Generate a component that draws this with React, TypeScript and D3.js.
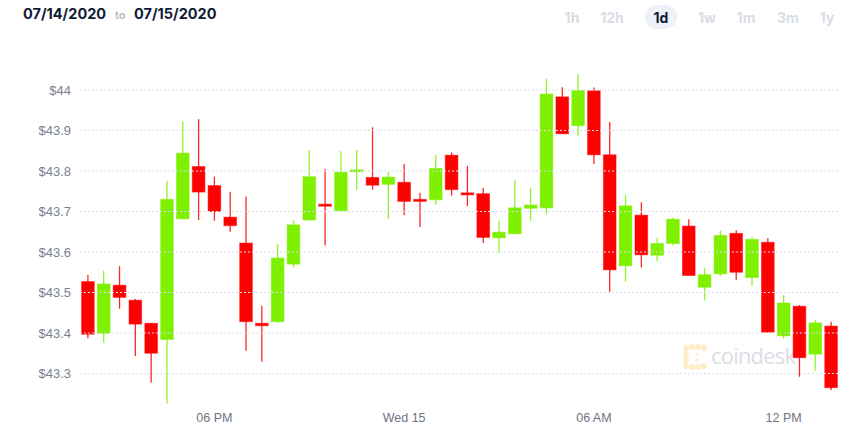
import * as d3 from "d3";

const WIDTH = 864;
const HEIGHT = 432;
const MARGIN = { top: 90, right: 25, bottom: 58.5, left: 80 };

// half-hour candles, 07/14/2020 14:00 -> 07/15/2020 13:30
const START = new Date(2020, 6, 14, 14, 0);
const opens = [
  43.527, 43.399, 43.518, 43.481, 43.424, 43.384, 43.682, 43.811, 43.764, 43.686,
  43.622, 43.424, 43.428, 43.57, 43.679, 43.718, 43.702, 43.8, 43.784, 43.767,
  43.772, 43.73, 43.729, 43.839, 43.746, 43.744, 43.635, 43.645, 43.708, 43.709,
  43.983, 43.912, 43.998, 43.84, 43.566, 43.691, 43.592, 43.621, 43.664, 43.513,
  43.546, 43.646, 43.537, 43.624, 43.393, 43.466, 43.348, 43.417,
];
const highs = [
  43.543, 43.554, 43.565, 43.484, 43.425, 43.776, 43.923, 43.928, 43.786, 43.749,
  43.737, 43.467, 43.62, 43.678, 43.852, 43.805, 43.849, 43.852, 43.908, 43.797,
  43.817, 43.746, 43.839, 43.846, 43.813, 43.758, 43.677, 43.778, 43.758, 44.027,
  44.007, 44.04, 44.006, 43.921, 43.74, 43.723, 43.635, 43.685, 43.681, 43.56,
  43.653, 43.654, 43.638, 43.634, 43.493, 43.469, 43.432, 43.428,
];
const lows = [
  43.387, 43.376, 43.46, 43.343, 43.278, 43.226, 43.681, 43.679, 43.677, 43.65,
  43.356, 43.329, 43.425, 43.562, 43.677, 43.616, 43.702, 43.753, 43.754, 43.681,
  43.691, 43.662, 43.717, 43.739, 43.713, 43.622, 43.599, 43.645, 43.677, 43.694,
  43.892, 43.887, 43.817, 43.502, 43.527, 43.562, 43.578, 43.616, 43.542, 43.48,
  43.541, 43.53, 43.517, 43.402, 43.386, 43.292, 43.307, 43.259,
];
const closes = [
  43.397, 43.521, 43.488, 43.422, 43.35, 43.73, 43.844, 43.748, 43.7, 43.665,
  43.428, 43.418, 43.585, 43.667, 43.786, 43.714, 43.797, 43.803, 43.765, 43.785,
  43.725, 43.726, 43.806, 43.754, 43.745, 43.636, 43.649, 43.709, 43.716, 43.99,
  43.892, 43.999, 43.84, 43.556, 43.714, 43.593, 43.621, 43.681, 43.542, 43.544,
  43.641, 43.55, 43.631, 43.402, 43.474, 43.339, 43.425, 43.265,
];

const xTickLabels = ["06 PM", "Wed 15", "06 AM", "12 PM"];
const ranges = ["1h", "12h", "1d", "1w", "1m", "3m", "1y"];
const rangeX = [572, 612, 661, 707, 746, 788, 827];
const activeRange = "1d";

const UP = "#7ff000";
const DOWN = "#ff0000";

const App = () => {
  const boundsWidth = WIDTH - MARGIN.left - MARGIN.right;

  const candles = opens.map((o, i) => ({
    t: d3.timeMinute.offset(START, i * 30),
    o,
    h: highs[i],
    l: lows[i],
    c: closes[i],
  }));

  const xScale = d3
    .scaleTime()
    .domain([d3.timeMinute.offset(START, -15), d3.timeMinute.offset(START, 24 * 60 - 15)])
    .range([MARGIN.left, MARGIN.left + boundsWidth]);

  const yScale = d3
    .scaleLinear()
    .domain([43.3, 44])
    .range([HEIGHT - MARGIN.bottom, MARGIN.top]);

  const step = xScale(d3.timeMinute.offset(START, 30)) - xScale(START);
  const bodyW = step * 0.8;

  const yTicks = yScale.ticks(7);
  const xTicks = d3.timeHour.every(6)!.range(xScale.domain()[0], xScale.domain()[1]);

  return (
    <div style={{ position: "absolute", left: 0, top: 0 }}>
      <svg width={WIDTH} height={HEIGHT} style={{ display: "block" }}>
        <rect width={WIDTH} height={HEIGHT} fill="#ffffff" />

        {/* header */}
        <g fontFamily="Inter, 'Open Sans', sans-serif" fontWeight={700}>
          <text x={23} y={19} fontSize={14.5} fill="#111a33">07/14/2020</text>
          <text x={115} y={19} fontSize={11} fill="#b3b7c4" fontWeight={600}>to</text>
          <text x={134} y={19} fontSize={14.5} fill="#111a33">07/15/2020</text>
          {ranges.map((r, i) => (
            <g key={r}>
              {r === activeRange && (
                <rect x={rangeX[i] - 16} y={5} width={32} height={24} rx={12} fill="#eef1f8" />
              )}
              <text
                x={rangeX[i]}
                y={22.5}
                textAnchor="middle"
                fontSize={14}
                fill={r === activeRange ? "#111a33" : "#d9dce6"}
              >
                {r}
              </text>
            </g>
          ))}
        </g>

        {/* watermark */}
        <g opacity={0.9}>
          {[
            [686, 348], [692, 347], [698, 347], [704, 348],
            [686, 354], [686, 360], [686, 366],
            [692, 367], [698, 367], [704, 366],
            [697, 354], [697, 360],
          ].map(([cx, cy], i) => (
            <circle key={i} cx={cx} cy={cy} r={i >= 10 ? 1.6 : 3} fill="#fdebc0" />
          ))}
          <text
            x={711}
            y={364}
            fontFamily="'Open Sans', sans-serif"
            fontSize={22}
            fill="#d7dae1"
            letterSpacing={-0.8}
          >
            coindesk
          </text>
        </g>

        {/* candles */}
        <g>
          {candles.map((d, i) => {
            const cx = xScale(d.t);
            const color = d.c >= d.o ? UP : DOWN;
            const top = yScale(Math.max(d.o, d.c));
            const bottom = yScale(Math.min(d.o, d.c));
            return (
              <g key={i}>
                <line
                  x1={cx}
                  x2={cx}
                  y1={yScale(d.h)}
                  y2={yScale(d.l)}
                  stroke={color}
                  strokeWidth={1.3}
                  strokeOpacity={0.85}
                />
                <rect
                  x={cx - bodyW / 2}
                  y={top}
                  width={bodyW}
                  height={Math.max(bottom - top, 2)}
                  fill={color}
                  stroke={color}
                  strokeOpacity={0.5}
                  strokeWidth={1}
                />
              </g>
            );
          })}
        </g>

        {/* grid + y axis */}
        <g>
          {yTicks.map((v) => (
            <g key={v}>
              <line
                x1={MARGIN.left}
                x2={MARGIN.left + boundsWidth}
                y1={yScale(v)}
                y2={yScale(v)}
                stroke="#d8def0"
                strokeDasharray="2,2"
                strokeWidth={1}
              />
              <text
                x={71}
                y={yScale(v)}
                textAnchor="end"
                dominantBaseline="central"
                fontFamily="'Liberation Sans', Arial, sans-serif"
                fontSize={13}
                fill="#7b8091"
              >
                {"$" + +v.toFixed(1)}
              </text>
            </g>
          ))}
        </g>

        {/* x axis */}
        <g>
          {xTicks.map((t, i) => (
            <text
              key={i}
              x={xScale(t)}
              y={417.5}
              textAnchor="middle"
              dominantBaseline="central"
              fontFamily="'Liberation Sans', Arial, sans-serif"
              fontSize={12.5}
              fill="#6e7383"
            >
              {xTickLabels[i]}
            </text>
          ))}
        </g>
      </svg>
    </div>
  );
};

export default App;
